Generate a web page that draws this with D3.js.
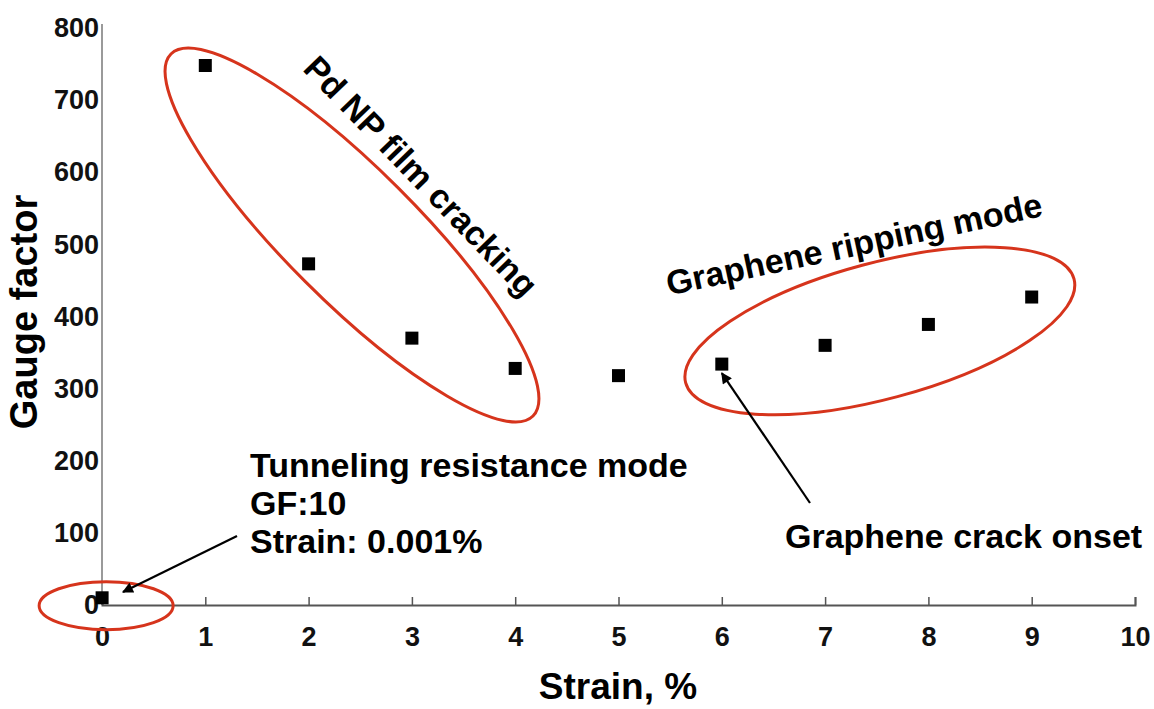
<!DOCTYPE html>
<html>
<head>
<meta charset="utf-8">
<script src="https://cdn.jsdelivr.net/npm/d3@7"></script>
<style>
  body { margin: 0; background: #fff; }
  svg { display: block; font-family: "Liberation Sans", Arial, Helvetica, sans-serif; font-weight: bold; }
</style>
</head>
<body>
<svg width="1154" height="709"></svg>
<script>
// data
var strain = [0.001, 1, 2, 3, 4, 5, 6, 7, 8, 9];
var gaugeFactor = [10, 748, 473, 370, 328, 318, 334, 360, 389, 427];
var xTicks = [0, 1, 2, 3, 4, 5, 6, 7, 8, 9, 10];
var yTicks = [0, 100, 200, 300, 400, 500, 600, 700, 800];

var svg = d3.select('svg');
var x = d3.scaleLinear().domain([0, 10]).range([102, 1135]);
var y = d3.scaleLinear().domain([0, 800]).range([605, 28]);

var red = '#d6341c';

// y axis
var yAxis = svg.append('g')
  .attr('transform', 'translate(' + x(0) + ',0)')
  .call(d3.axisLeft(y).tickValues(yTicks).tickSize(0).tickPadding(3));
yAxis.select('.domain').attr('stroke', '#9a9a9a').attr('stroke-width', 2)
  .attr('d', 'M0,' + (y(800) - 4) + 'V' + y(0));
yAxis.selectAll('text').attr('font-size', 27).attr('fill', '#111')
  .attr('font-family', '"Liberation Sans", Arial, sans-serif').attr('font-weight', 'bold');

// x axis
var xAxis = svg.append('g')
  .attr('transform', 'translate(0,' + y(0) + ')')
  .call(d3.axisBottom(x).tickValues(xTicks).tickSize(-8).tickPadding(22));
xAxis.select('.domain').attr('stroke', '#555').attr('stroke-width', 2);
xAxis.selectAll('.tick line').attr('stroke', '#555').attr('stroke-width', 1.5);
xAxis.selectAll('text').attr('font-size', 27).attr('fill', '#111')
  .attr('font-family', '"Liberation Sans", Arial, sans-serif').attr('font-weight', 'bold');

// axis titles
svg.append('text')
  .attr('x', 618).attr('y', 699)
  .attr('text-anchor', 'middle')
  .attr('font-size', 37)
  .text('Strain, %');

svg.append('text')
  .attr('transform', 'translate(37,' + 312 + ') rotate(-90)')
  .attr('text-anchor', 'middle')
  .attr('font-size', 38)
  .text('Gauge factor');

// markers
var pts = strain.map(function(d, i) { return { x: d, y: gaugeFactor[i] }; });
svg.append('g').selectAll('rect')
  .data(pts)
  .enter()
  .append('rect')
  .attr('x', function(d) { return x(d.x) - 6.5; })
  .attr('y', function(d) { return y(d.y) - 6.5; })
  .attr('width', 13)
  .attr('height', 13)
  .attr('fill', '#000');

// red ellipses around regimes
var ellipses = [
  { cx: 2.42, cy: 513, rx: 256, ry: 66, angle: 45 },
  { cx: 7.53, cy: 380, rx: 201, ry: 68, angle: -15 },
  { cx: 0.04, cy: -1, rx: 67, ry: 24, angle: 0 }
];
svg.append('g').selectAll('ellipse')
  .data(ellipses)
  .enter()
  .append('ellipse')
  .attr('transform', function(d) {
    return 'translate(' + x(d.cx) + ',' + y(d.cy) + ') rotate(' + d.angle + ')';
  })
  .attr('rx', function(d) { return d.rx; })
  .attr('ry', function(d) { return d.ry; })
  .attr('fill', 'none')
  .attr('stroke', red)
  .attr('stroke-width', 3);

// arrows
svg.append('defs').append('marker')
  .attr('id', 'head')
  .attr('viewBox', '0 0 10 10')
  .attr('refX', 9).attr('refY', 5)
  .attr('markerWidth', 5.5).attr('markerHeight', 5)
  .attr('markerUnits', 'strokeWidth')
  .attr('orient', 'auto')
  .append('path')
  .attr('d', 'M0,0L10,5L0,10z')
  .attr('fill', '#000');

svg.append('line')
  .attr('x1', 237).attr('y1', 536)
  .attr('x2', 123).attr('y2', 592)
  .attr('stroke', '#000').attr('stroke-width', 2.2)
  .attr('marker-end', 'url(#head)');

svg.append('line')
  .attr('x1', 810).attr('y1', 503)
  .attr('x2', x(6)).attr('y2', y(334) + 9)
  .attr('stroke', '#000').attr('stroke-width', 2.2)
  .attr('marker-end', 'url(#head)');

// annotations
svg.append('text')
  .attr('transform', 'translate(' + 421 + ',' + 176 + ') rotate(46)')
  .attr('text-anchor', 'middle')
  .attr('dominant-baseline', 'central')
  .attr('font-size', 34)
  .text('Pd NP film cracking');

svg.append('text')
  .attr('transform', 'translate(' + 854 + ',' + 244 + ') rotate(-12)')
  .attr('text-anchor', 'middle')
  .attr('dominant-baseline', 'central')
  .attr('font-size', 34)
  .text('Graphene ripping mode');

var tunnel = ['Tunneling resistance mode', 'GF:10', 'Strain: 0.001%'];
svg.append('g').selectAll('text')
  .data(tunnel)
  .enter()
  .append('text')
  .attr('x', 250)
  .attr('y', function(d, i) { return 477 + i * 38; })
  .attr('font-size', 34)
  .text(function(d) { return d; });

svg.append('text')
  .attr('x', 785).attr('y', 548)
  .attr('font-size', 34)
  .text('Graphene crack onset');
</script>
</body>
</html>
